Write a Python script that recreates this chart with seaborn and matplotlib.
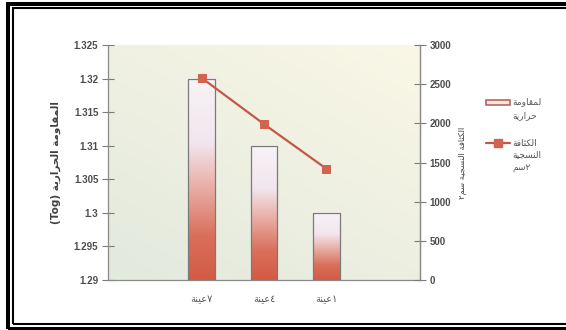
import numpy as np
import pandas as pd
import matplotlib
matplotlib.use("Agg")
import matplotlib.pyplot as plt
from matplotlib.colors import LinearSegmentedColormap, to_rgb
from matplotlib.lines import Line2D
from matplotlib.patches import Rectangle
import seaborn as sns

# ---- Arabic shaping (presentation forms, visual order) ----
_FORMS = {
    'ا': (0xFE8D, 2), 'ة': (0xFE93, 2), 'و': (0xFEED, 2), 'ر': (0xFEAD, 2),
    'ع': (0xFEC9, 4), 'ي': (0xFEF1, 4), 'ن': (0xFEE5, 4), 'م': (0xFEE1, 4),
    'ق': (0xFED5, 4), 'ح': (0xFEA1, 4), 'ك': (0xFED9, 4), 'ث': (0xFE99, 4),
    'ف': (0xFED1, 4), 'س': (0xFEB1, 4), 'ج': (0xFE9D, 4), 'ل': (0xFEDD, 4),
}


def shape(text):
    out = []
    for i, ch in enumerate(text):
        if ch not in _FORMS:
            out.append(ch)
            continue
        base, n = _FORMS[ch]
        prev = text[i - 1] if i > 0 else ''
        nxt = text[i + 1] if i + 1 < len(text) else ''
        jp = prev in _FORMS and _FORMS[prev][1] == 4
        jn = n == 4 and nxt in _FORMS
        if jp and jn:
            cp = base + 3
        elif jp:
            cp = base + 1
        elif jn:
            cp = base + 2
        else:
            cp = base
        out.append(chr(cp))
    return ''.join(reversed(out))


def shape_tail_digit(text):
    # word followed by a trailing digit kept on the right
    return shape(text[:-1]) + text[-1]


# ---- data ----
samples = ["عينة٧", "عينة٤", "عينة١"]
resistance = [1.32, 1.31, 1.30]          # Tog
density = [2580, 1990, 1420]             # per cm²
left_ticks = [1.29, 1.295, 1.30, 1.305, 1.31, 1.315, 1.32, 1.325]
right_ticks = [0, 500, 1000, 1500, 2000, 2500, 3000]
left_label = "المقاومة الحرارية"
right_label = "الكثافة النسجية سم٢"
legend_bar = ["لمقاومة", "حرارية"]
legend_line = ["الكثافة", "النسجية", "سم٢"]

# category slots: an empty slot on each side of the samples
order = ["_a"] + samples + ["_b"]
df = pd.DataFrame({"sample": samples, "resistance": resistance})
line_x = [order.index(s) for s in samples]

sns.set_style("white")
AR = ["DejaVu Sans"]
LAT = ["Liberation Sans", "DejaVu Sans"]

W, H = 566, 330
fig = plt.figure(figsize=(W / 100, H / 100), dpi=100)
fig.patch.set_facecolor("white")


def fx(px):
    return px / W


def fy(py):
    return 1 - py / H


ax = fig.add_axes([fx(108), fy(280), fx(420) - fx(108), fy(45) - fy(280)])

# plot-area background wash
gx = np.linspace(0, 1, 200)
gy = np.linspace(0, 1, 200)
GX, GY = np.meshgrid(gx, gy)
t = np.clip((GX * 0.6 + GY * 0.8) / 1.4, 0, 1)[..., None]
c_bl = np.array(to_rgb("#e2e9dd"))
c_tr = np.array(to_rgb("#faf7e6"))
bg = c_bl * (1 - t) + c_tr * t
ax.imshow(bg, extent=[0, 1, 0, 1], transform=ax.transAxes, origin="lower",
          aspect="auto", zorder=0)

sns.barplot(data=df, x="sample", y="resistance", order=order, width=0.42,
            ax=ax, color="white", edgecolor="#7a7a7a", linewidth=0.9,
            zorder=3)

ylo, yhi = 1.29, 1.325
bar_cmap = LinearSegmentedColormap.from_list(
    "bar", [(0.0, "#d35a44"), (0.22, "#d9705c"), (0.5, "#ebb8b2"),
            (0.68, "#f2e6ee"), (1.0, "#f7f3f6")])
grad = np.linspace(0, 1, 256)[:, None]
for p in ax.patches:
    if not isinstance(p, Rectangle):
        continue
    h = p.get_height()
    if not np.isfinite(h) or h <= ylo:
        continue
    x0, w = p.get_x(), p.get_width()
    ax.imshow(grad, cmap=bar_cmap, extent=[x0, x0 + w, ylo, h],
              origin="lower", aspect="auto", zorder=2.5)
    p.set_facecolor("none")
    p.set_zorder(3)

ax.set_xlim(-0.5, len(order) - 0.5)
ax.set_ylim(ylo, yhi)
ax.set_yticks(left_ticks)
ax.set_yticklabels([f"{v:g}" for v in left_ticks], family=LAT,
                   fontsize=7, fontweight="bold", color="#4d4d4d")
ax.set_xticks(range(len(order)))
ax.set_xticklabels([""] + [shape_tail_digit(s) for s in samples] + [""],
                   family=AR, fontsize=7, color="#555555")
ax.set_xticks([i + 0.5 for i in range(len(order) - 1)], minor=True)
ax.tick_params(axis="x", which="major", length=0, pad=10)
ax.tick_params(axis="x", which="minor", length=5, width=0.8,
               color="#7a7a7a", direction="out")
ax.tick_params(axis="y", length=8, width=0.8, color="#7a7a7a",
               direction="inout", pad=3)
ax.set_xlabel("")
ax.set_ylabel("(Tog) " + shape(left_label), family=AR, fontsize=7.5,
              fontweight="bold", color="#3f3f3f", labelpad=9)
ax.spines["top"].set_visible(False)
for side in ["left", "bottom", "right"]:
    ax.spines[side].set_color("#8a8a8a")
    ax.spines[side].set_linewidth(0.9)

# density line on the secondary axis
ax2 = ax.twinx()
line_color = "#c4574a"
marker_color = "#d0644f"
sns.lineplot(x=line_x, y=density, ax=ax2, color=line_color, linewidth=1.6,
             marker="s", markersize=6, markerfacecolor=marker_color,
             markeredgecolor=marker_color, zorder=5)
ax2.set_xlim(-0.5, len(order) - 0.5)
ax2.set_ylim(0, 3000)
ax2.set_yticks(right_ticks)
ax2.set_yticklabels([str(v) for v in right_ticks], family=LAT, fontsize=7,
                    fontweight="bold", color="#4d4d4d")
ax2.tick_params(axis="y", length=8, width=0.8, color="#7a7a7a",
                direction="inout", pad=3)
ax2.set_ylabel(shape(right_label), family=AR, fontsize=6, color="#444444",
               labelpad=5, rotation=90)
for side in ["top", "left", "bottom"]:
    ax2.spines[side].set_visible(False)
ax2.spines["right"].set_color("#8a8a8a")
ax2.spines["right"].set_linewidth(0.9)

# legend: key on the first line of each label
key_x0, key_x1, text_x = 486, 510, 512
bar_key = Rectangle((fx(key_x0), fy(105)), fx(key_x1) - fx(key_x0),
                    fy(100) - fy(105), transform=fig.transFigure,
                    facecolor="#f3e4e4", edgecolor="#b8675b", linewidth=1.2)
fig.patches.append(bar_key)
fig.lines.append(Line2D([fx(key_x0), fx(key_x1)], [fy(143), fy(143)],
                        transform=fig.transFigure, color=line_color,
                        linewidth=1.6))
fig.lines.append(Line2D([fx((key_x0 + key_x1) / 2)], [fy(143)],
                        transform=fig.transFigure, marker="s", markersize=6,
                        markerfacecolor=marker_color,
                        markeredgecolor=marker_color, linestyle="none"))
bar_lines = [shape(w) for w in legend_bar]
line_lines = [shape(legend_line[0]), shape(legend_line[1]),
              shape_tail_digit(legend_line[2])]
for i, s in enumerate(bar_lines):
    fig.text(fx(text_x), fy(102 + 14 * i), s, family=AR, fontsize=6.5,
             color="#555555", ha="left", va="center")
for i, s in enumerate(line_lines):
    fig.text(fx(text_x), fy(143 + 12 * i), s, family=AR, fontsize=6.5,
             color="#555555", ha="left", va="center")

# double frame around the chart
frame_outer = Rectangle((fx(8), fy(328.5)), fx(600) - fx(8),
                        fy(3.5) - fy(328.5), transform=fig.transFigure,
                        fill=False, edgecolor="black", linewidth=2.9,
                        clip_on=False)
frame_inner = Rectangle((fx(13.2), fy(324)), fx(590) - fx(13.2),
                        fy(8) - fy(324), transform=fig.transFigure,
                        fill=False, edgecolor="black", linewidth=1.5,
                        clip_on=False)
fig.patches.extend([frame_outer, frame_inner])

fig.savefig("out.png", dpi=100)
